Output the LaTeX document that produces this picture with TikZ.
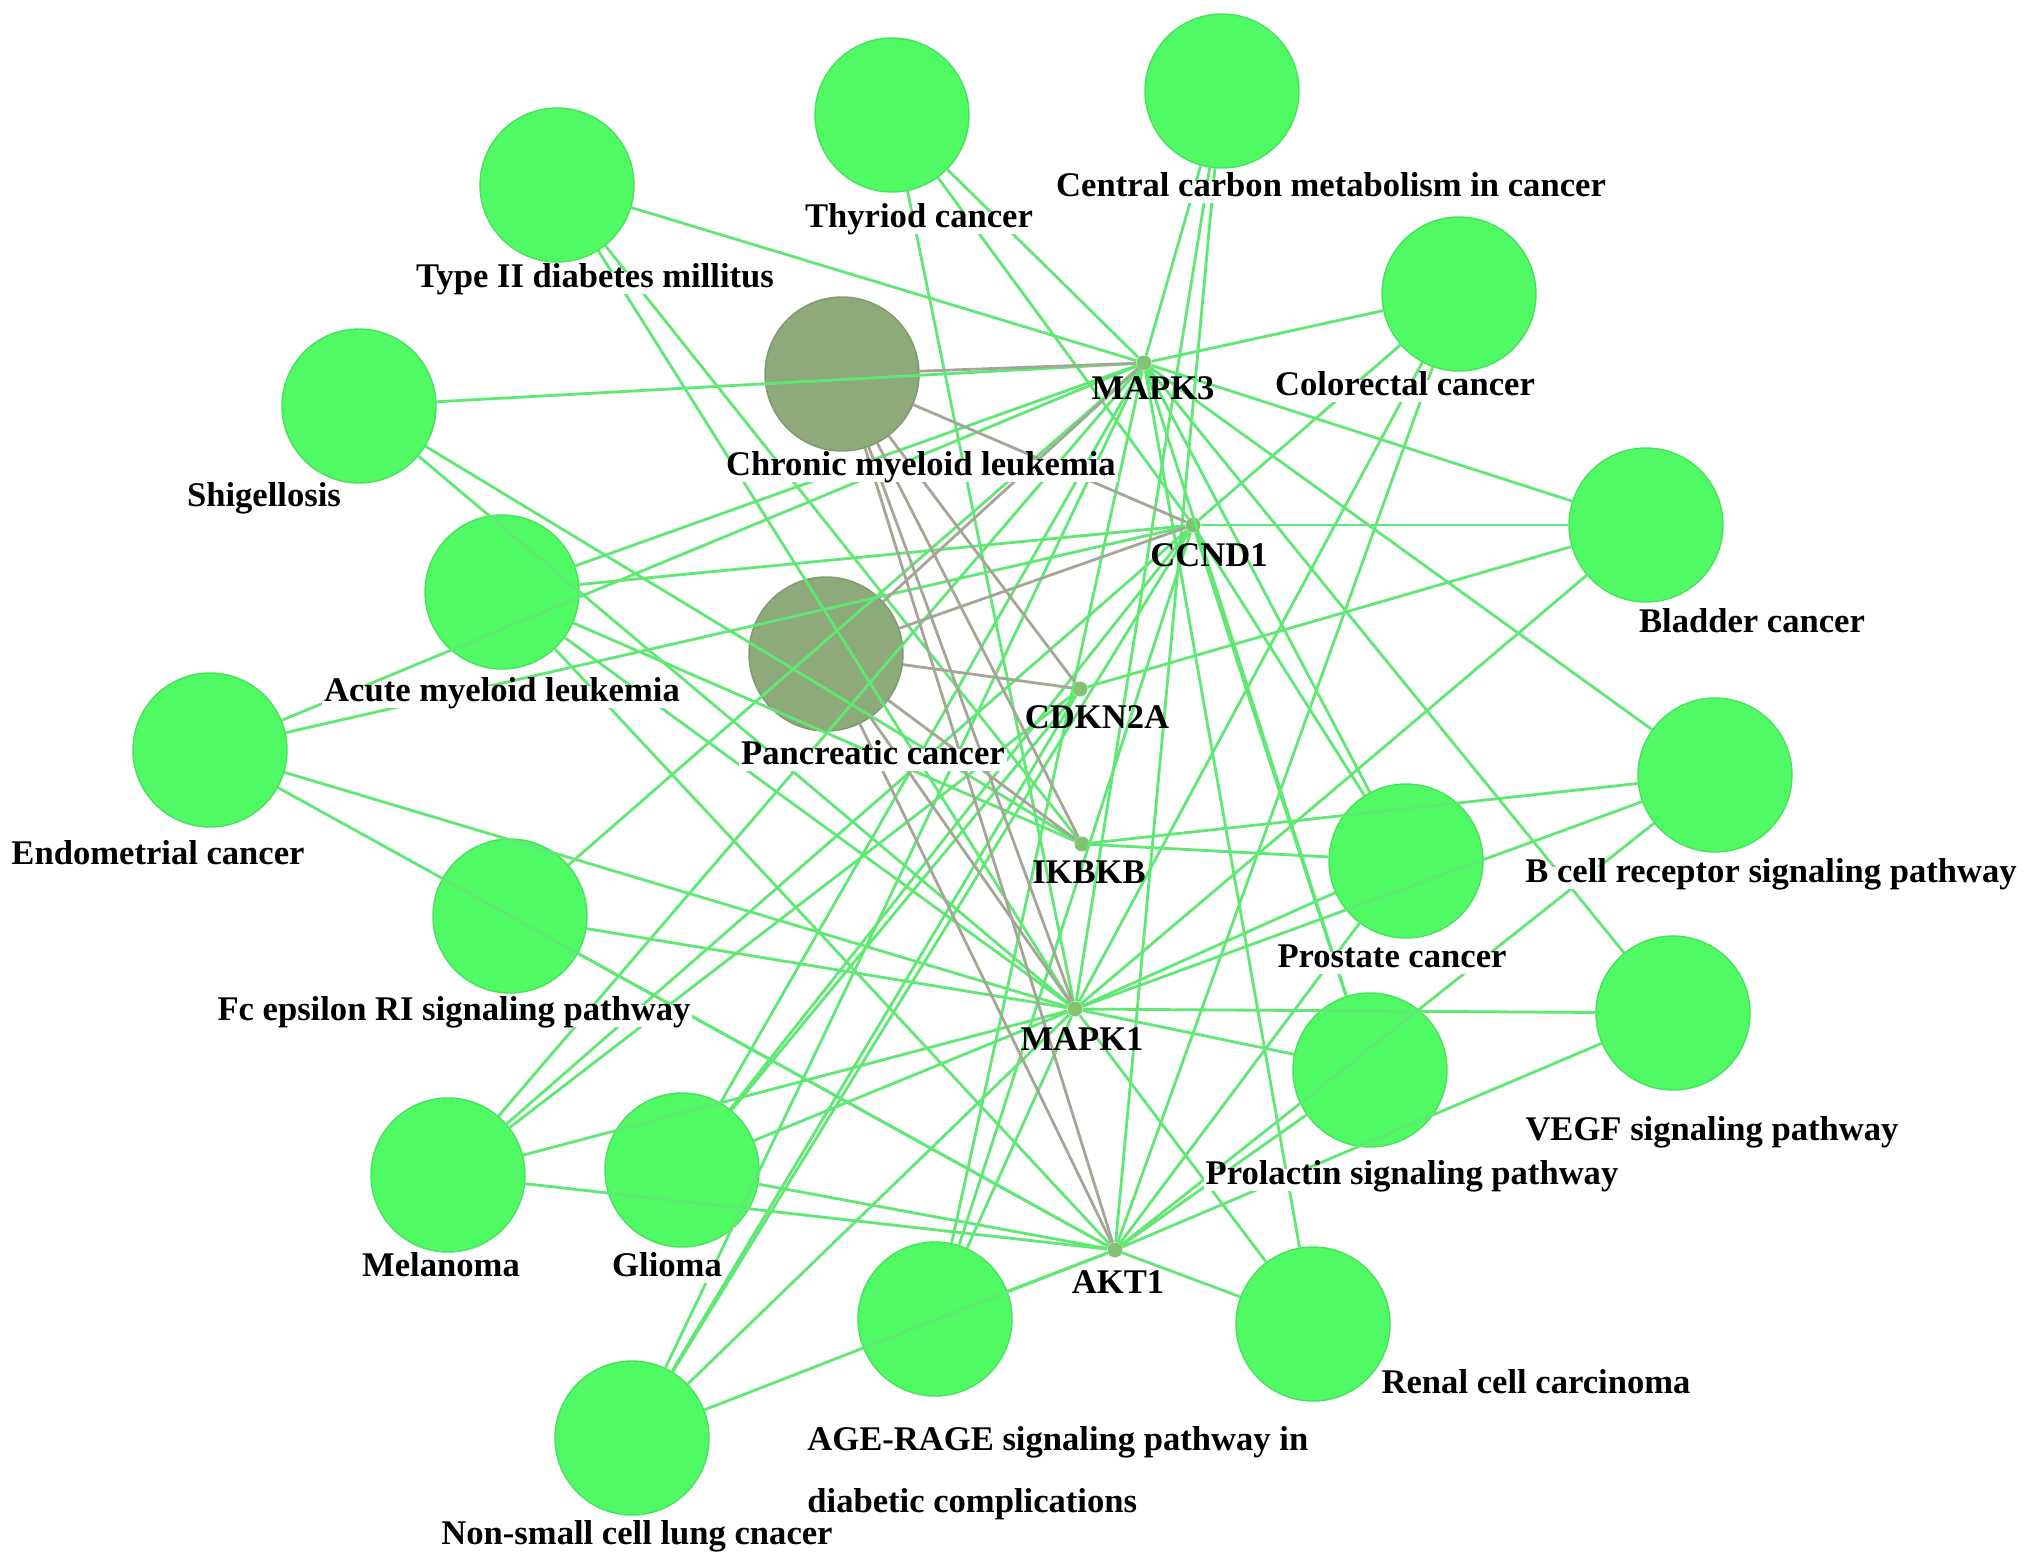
\documentclass[tikz,border=0pt]{standalone}
\usepackage{fontspec}
\setmainfont{Liberation Serif}
\definecolor{pwfill}{RGB}{80,250,100}
\definecolor{pwline}{RGB}{72,225,92}
\definecolor{pgfill}{RGB}{143,170,122}
\definecolor{pgline}{RGB}{125,152,108}
\definecolor{edgeg}{RGB}{95,232,115}
\definecolor{edgegray}{RGB}{165,165,152}
\definecolor{genefill}{RGB}{130,195,115}
\begin{document}
\begin{tikzpicture}[x=0.5pt,y=-0.5pt,
  pw/.style={circle,minimum size=77pt,inner sep=0pt,fill=pwfill,draw=pwline,line width=0.7pt},
  pg/.style={pw,fill=pgfill,draw=pgline},
  gene/.style={circle,minimum size=7.5pt,inner sep=0pt,fill=genefill},
  edge/.style={draw=edgeg,line width=1.4pt},
  gedge/.style={draw=edgegray,line width=1.4pt},
  lbl/.style={font=\fontsize{17.3}{20}\selectfont\bfseries,fill=white,inner sep=1pt,text height=0.7em,text depth=0.22em,yshift=-1.5pt},
  glbl/.style={font=\fontsize{17.3}{20}\selectfont\bfseries,inner sep=1pt,text height=0.7em,text depth=0.22em,yshift=-2.5pt}]
\useasboundingbox (0,0) rectangle (2031,1565);
\fill[white] (0,0) rectangle (2031,1565);
% pathway circles
\node[pw] (thy) at (892,115) {};
\node[pw] (ccm) at (1222,91) {};
\node[pw] (t2d) at (557,185) {};
\node[pw] (crc) at (1459,294) {};
\node[pw] (shi) at (359,406) {};
\node[pg] (cml) at (842,374) {};
\node[pw] (bla) at (1646,525) {};
\node[pw] (aml) at (502,592) {};
\node[pg] (pan) at (826,654) {};
\node[pw] (end) at (210,750) {};
\node[pw] (bcr) at (1715,775) {};
\node[pw] (pro) at (1406,861) {};
\node[pw] (fce) at (510,916) {};
\node[pw] (veg) at (1673,1013) {};
\node[pw] (prl) at (1370,1070) {};
\node[pw] (mel) at (448,1175) {};
\node[pw] (gli) at (682,1170) {};
\node[pw] (age) at (935,1319) {};
\node[pw] (ren) at (1313,1324) {};
\node[pw] (nsc) at (632,1438) {};
% genes
\node[gene] (m3) at (1144,363) {};
\node[gene] (cc) at (1193,525) {};
\node[gene] (cd) at (1080,689) {};
\node[gene] (ik) at (1082,844) {};
\node[gene] (m1) at (1075,1009) {};
\node[gene] (ak) at (1115,1250) {};
% edges
\foreach \p/\g in {thy/m3,thy/cc,thy/m1,
  ccm/m3,ccm/m1,ccm/ak,
  t2d/m3,t2d/ik,t2d/m1,
  crc/m3,crc/cc,crc/m1,crc/ak,
  shi/m3,shi/ik,shi/m1,
  bla/m3,bla/cc,bla/cd,bla/m1,
  aml/m3,aml/cc,aml/ik,aml/m1,aml/ak,
  end/m3,end/cc,end/m1,end/ak,
  bcr/m3,bcr/ik,bcr/m1,bcr/ak,
  pro/m3,pro/cc,pro/ik,pro/m1,pro/ak,
  fce/m3,fce/m1,fce/ak,
  veg/m3,veg/m1,veg/ak,
  prl/m3,prl/cc,prl/m1,prl/ak,
  mel/m3,mel/cc,mel/cd,mel/m1,mel/ak,
  gli/m3,gli/cc,gli/cd,gli/m1,gli/ak,
  age/m3,age/cc,age/m1,age/ak,
  ren/m3,ren/m1,ren/ak,
  nsc/m3,nsc/cc,nsc/cd,nsc/m1,nsc/ak}
  \draw[edge] (\p) -- (\g);
\foreach \p in {cml,pan}
  \foreach \g in {m3,cc,cd,ik,m1,ak}
    \draw[gedge] (\p) -- (\g);
% labels
\node[lbl] (lthy) at (919,220) {Thyriod cancer};
\node[lbl] (lccm) at (1331,189) {Central carbon metabolism in cancer};
\node[lbl] (lt2d) at (595,280) {Type II diabetes millitus};
\node[lbl] (lcrc) at (1405,388) {Colorectal cancer};
\node[lbl] (lshi) at (264,499) {Shigellosis};
\node[lbl] (lcml) at (921,468) {Chronic myeloid leukemia};
\node[lbl] (lbla) at (1752,625) {Bladder cancer};
\node[lbl] (laml) at (502,694) {Acute myeloid leukemia};
\node[lbl] (lpan) at (873,757) {Pancreatic cancer};
\node[lbl] (lend) at (158,857) {Endometrial cancer};
\node[lbl] (lbcr) at (1771,875) {B cell receptor signaling pathway};
\node[lbl] (lpro) at (1392,960) {Prostate cancer};
\node[lbl] (lfce) at (454,1013) {Fc epsilon RI signaling pathway};
\node[lbl] (lveg) at (1712,1133) {VEGF signaling pathway};
\node[lbl] (lprl) at (1412,1177) {Prolactin signaling pathway};
\node[lbl] (lmel) at (441,1269) {Melanoma};
\node[lbl] (lgli) at (667,1269) {Glioma};
\node[lbl] (lren) at (1536,1386) {Renal cell carcinoma};
\node[lbl,anchor=west] (lage1) at (805,1443) {AGE-RAGE signaling pathway in};
\node[lbl,anchor=west] (lage2) at (805,1505) {diabetic complications};
\node[lbl] (lnsc) at (637,1537) {Non-small cell lung cnacer};
\node[glbl] (lm3) at (1153,390) {MAPK3};
\node[glbl] (lcc) at (1209,557) {CCND1};
\node[glbl] (lcd) at (1097,719) {CDKN2A};
\node[glbl] (lik) at (1089,874) {IKBKB};
\node[glbl] (lm1) at (1082,1041) {MAPK1};
\node[glbl] (lak) at (1118,1284) {AKT1};
\end{tikzpicture}
\end{document}
